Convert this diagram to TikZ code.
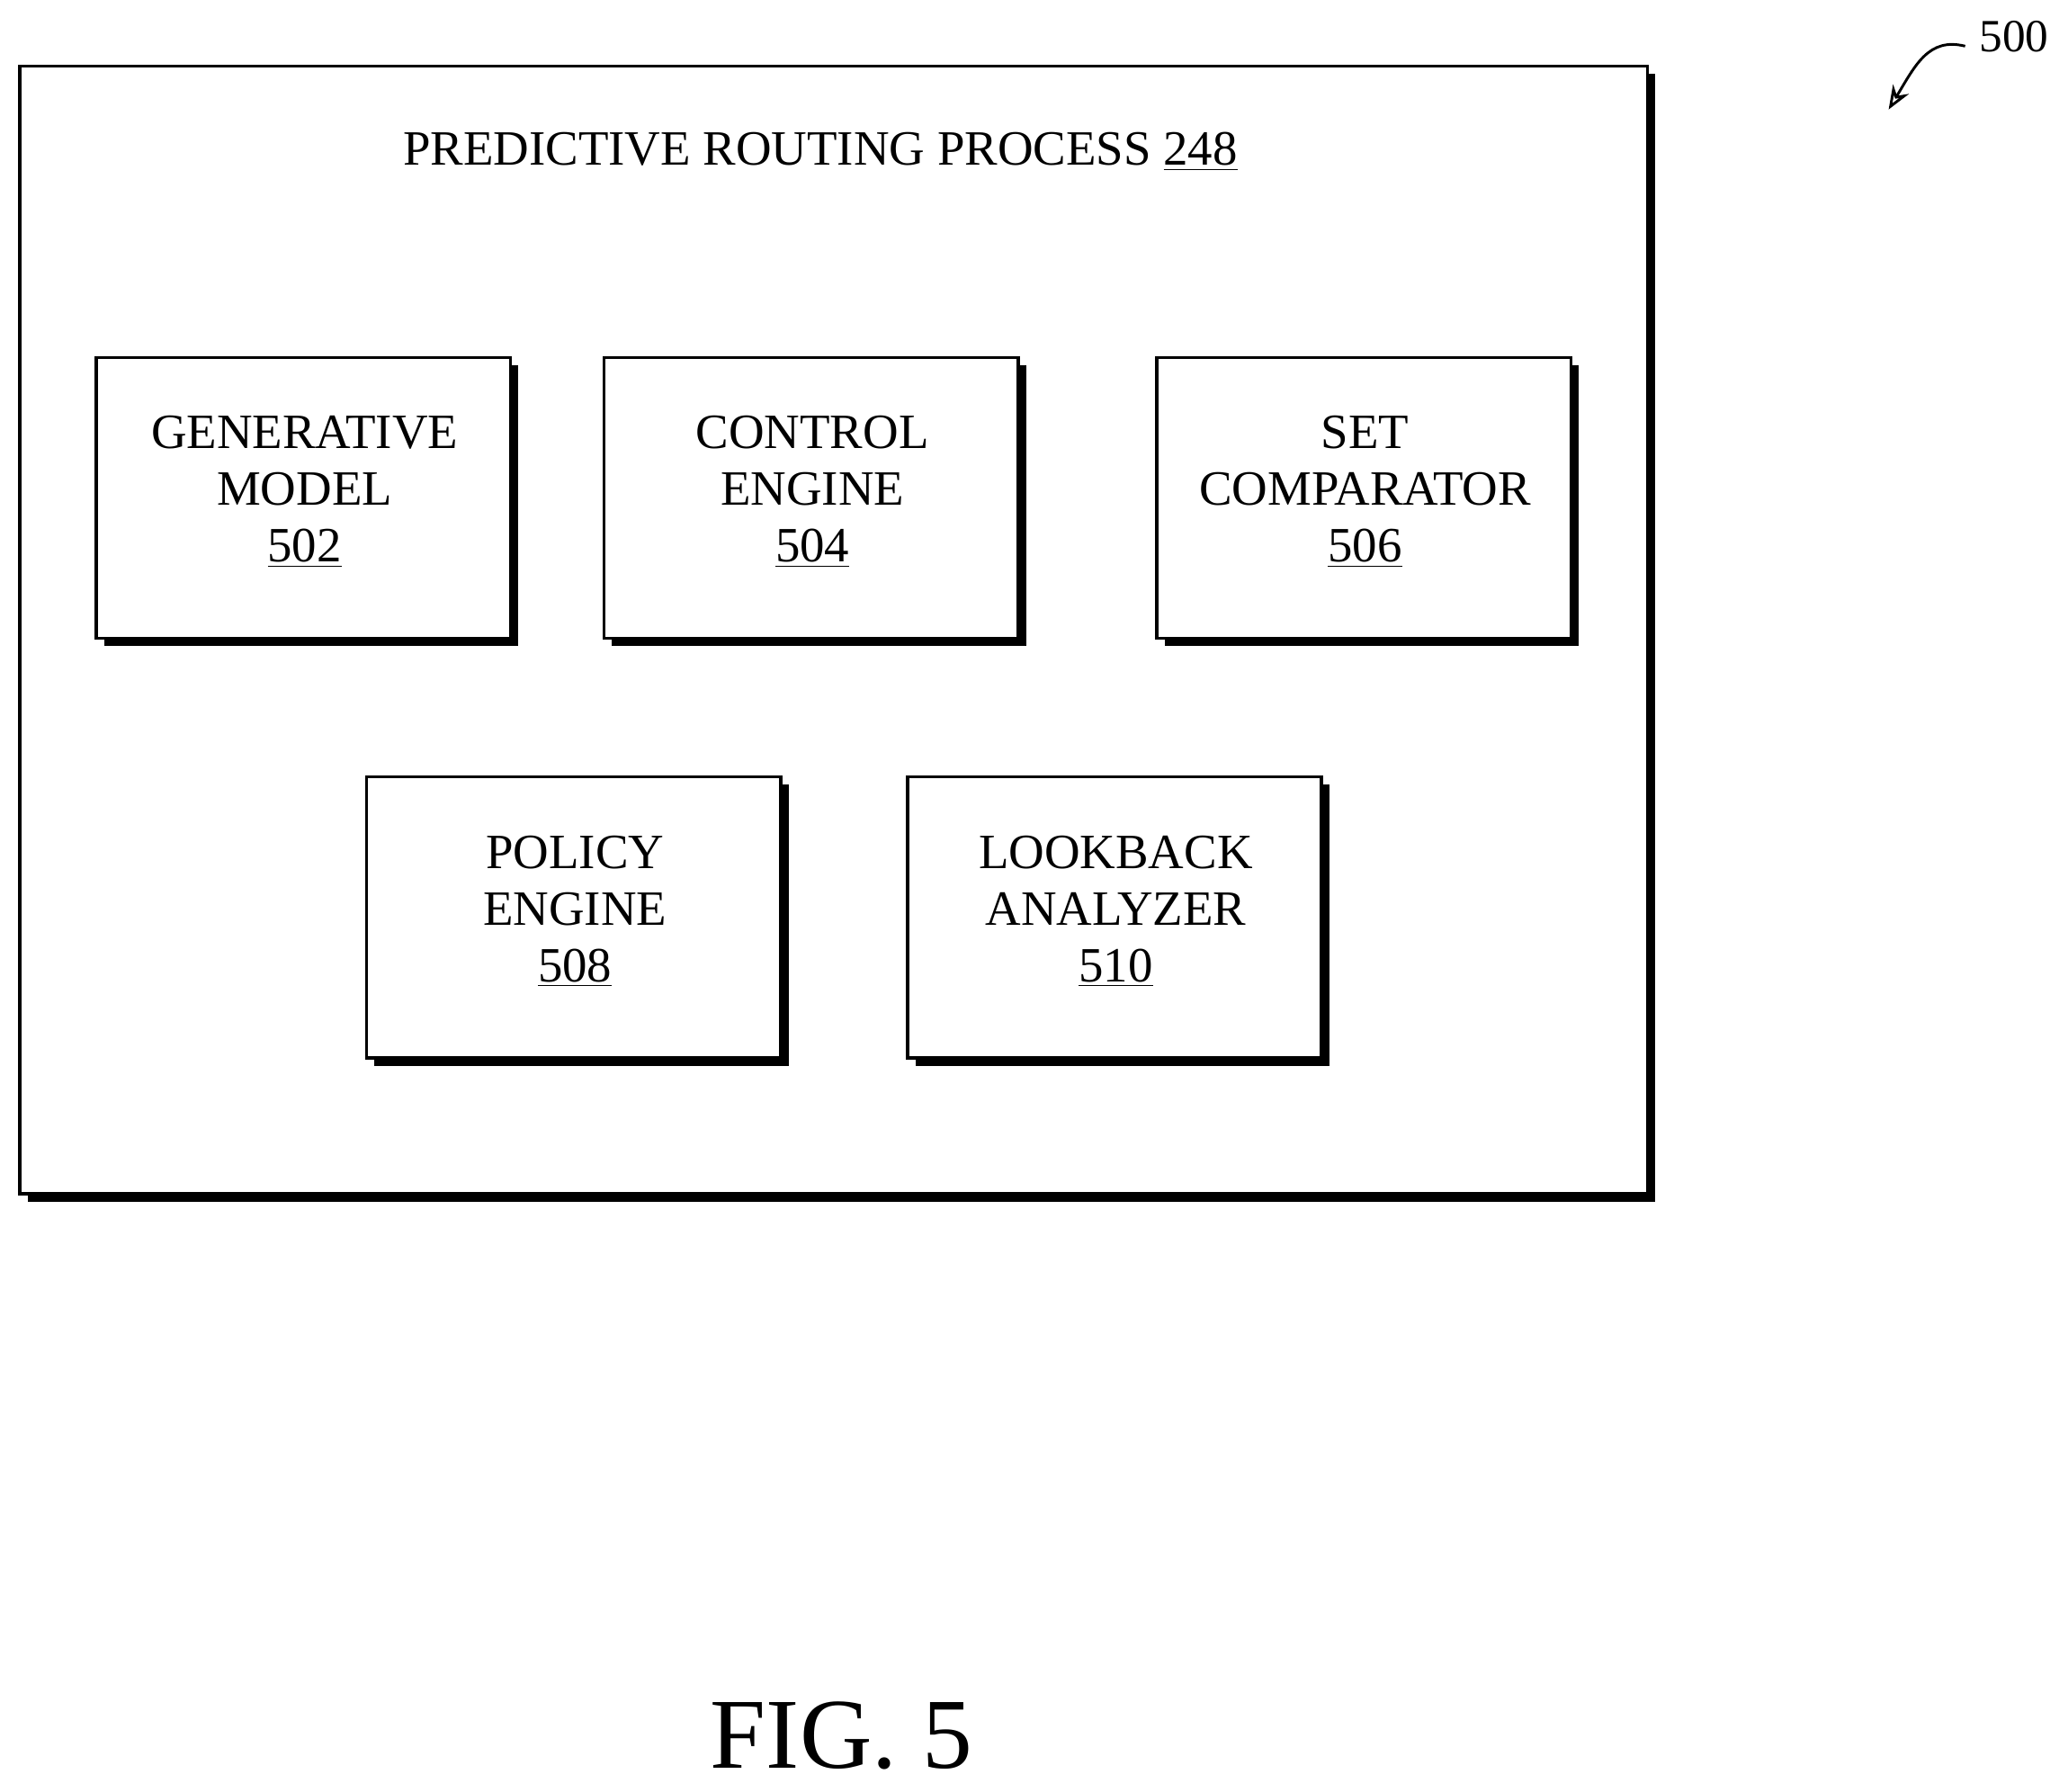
\documentclass[tikz,border=0pt]{standalone}
\usepackage{fontspec}
\setmainfont{Liberation Serif}
\usetikzlibrary{arrows.meta}
\begin{document}
\begin{tikzpicture}[x=0.5pt,y=-0.5pt,
  txt/.style={font=\fontsize{18.7}{21.5}\selectfont,align=center,inner sep=0},
  blk/.style={draw,fill=white,line width=1.2pt}]
\useasboundingbox (0,0) rectangle (1568,1358);
% outer box
\fill (21,56) rectangle (1255,911);
\draw[blk] (15,50) rectangle (1249,905);
\node[txt] (title) at (622,115) {PREDICTIVE ROUTING PROCESS \underline{248}};
\newcommand{\mybox}[5]{%
  \fill (#1+6,#2+6) rectangle (#1+320,#2+219);
  \draw[blk] (#1,#2) rectangle (#1+314,#2+213);
  \node[txt] (#5) at (#1+158,#2+102) {#3\\#4};}
\mybox{73}{271}{GENERATIVE}{MODEL\\\underline{502}}{n502}
\mybox{458}{271}{CONTROL}{ENGINE\\\underline{504}}{n504}
\mybox{877}{271}{SET}{COMPARATOR\\\underline{506}}{n506}
\mybox{278}{589}{POLICY}{ENGINE\\\underline{508}}{n508}
\mybox{688}{589}{LOOKBACK}{ANALYZER\\\underline{510}}{n510}
\node[inner sep=0,font=\fontsize{17.5}{20}\selectfont] (lbl) at (1527,28) {500};
\coordinate (s) at (1490,35);
\coordinate (e) at (1432,83);
\draw[line width=1pt,-{Stealth[length=9pt,width=7pt,open]}] (s) .. controls (1462,28) and (1452,50) .. (e);
\node[inner sep=0,font=\fontsize{38}{42}\selectfont] (fig) at (638,1316) {FIG. 5};
\end{tikzpicture}
\end{document}
